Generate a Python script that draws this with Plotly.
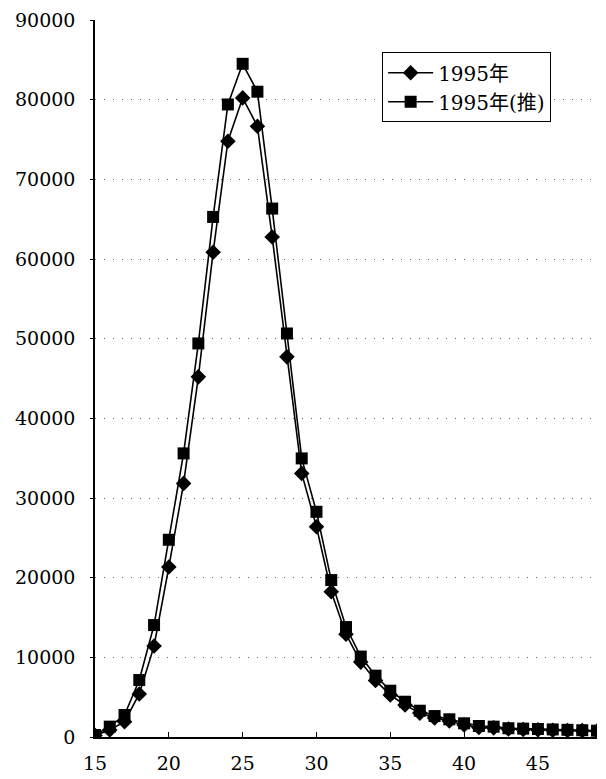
import plotly.graph_objects as go

ages = list(range(15, 50))
births_1995 = [200, 880, 1920, 5400, 11420, 21330, 31830, 45210, 60850, 74780,
               80220, 76660, 62770, 47720, 33090, 26390, 18230, 12900, 9400, 7100,
               5270, 4020, 3000, 2400, 2000, 1500, 1200, 1150, 1000, 950,
               900, 850, 820, 800, 750]
births_1995_est = [250, 1300, 2760, 7150, 14050, 24760, 35600, 49400, 65280, 79400,
                   84500, 81000, 66330, 50650, 34970, 28270, 19700, 13800, 10100, 7700,
                   5810, 4430, 3300, 2630, 2220, 1720, 1380, 1300, 1100, 1050,
                   1000, 950, 900, 850, 790]
y_ticks = [0, 10000, 20000, 30000, 40000, 50000, 60000, 70000, 80000, 90000]
x_ticks = [15, 20, 25, 30, 35, 40, 45]

FONT = "DejaVu Serif, Noto Sans CJK SC, serif"

fig = go.Figure()
fig.add_trace(go.Scatter(
    x=ages, y=births_1995, name="1995年", mode="lines+markers",
    line=dict(color="black", width=1.6),
    marker=dict(symbol="diamond", size=12, color="black"),
))
fig.add_trace(go.Scatter(
    x=ages, y=births_1995_est, name="1995年(推)", mode="lines+markers",
    line=dict(color="black", width=1.6),
    marker=dict(symbol="square", size=12, color="black"),
))

fig.update_layout(
    width=598, height=771,
    margin=dict(l=87, r=9, t=12, b=42),
    paper_bgcolor="white", plot_bgcolor="white",
    font=dict(family=FONT, size=19, color="black"),
    showlegend=True,
    legend=dict(
        x=0.572, y=0.955, xanchor="left", yanchor="top",
        bordercolor="black", borderwidth=1, bgcolor="white",
        font=dict(family=FONT, size=20, color="black"),
        tracegroupgap=0, itemwidth=45,
    ),
)
fig.update_xaxes(
    range=[15, 49], tickvals=x_ticks, ticktext=[str(v) for v in x_ticks],
    showgrid=False, zeroline=False, automargin=False,
    showline=True, linecolor="black", linewidth=1.5,
    ticks="inside", ticklen=5, tickcolor="black",
    ticklabelstandoff=8,
    tickfont=dict(family=FONT, size=19, color="black"),
)
fig.update_yaxes(
    range=[0, 90000], tickvals=y_ticks, ticktext=[str(v) for v in y_ticks],
    showgrid=True, gridcolor="#666666", gridwidth=1, griddash="1px,8px",
    zeroline=False, automargin=False,
    showline=True, linecolor="black", linewidth=1.5,
    ticks="outside", ticklen=3, tickcolor="black",
    ticklabelstandoff=11,
    tickfont=dict(family=FONT, size=19, color="black"),
)

fig.write_html("out.html")
